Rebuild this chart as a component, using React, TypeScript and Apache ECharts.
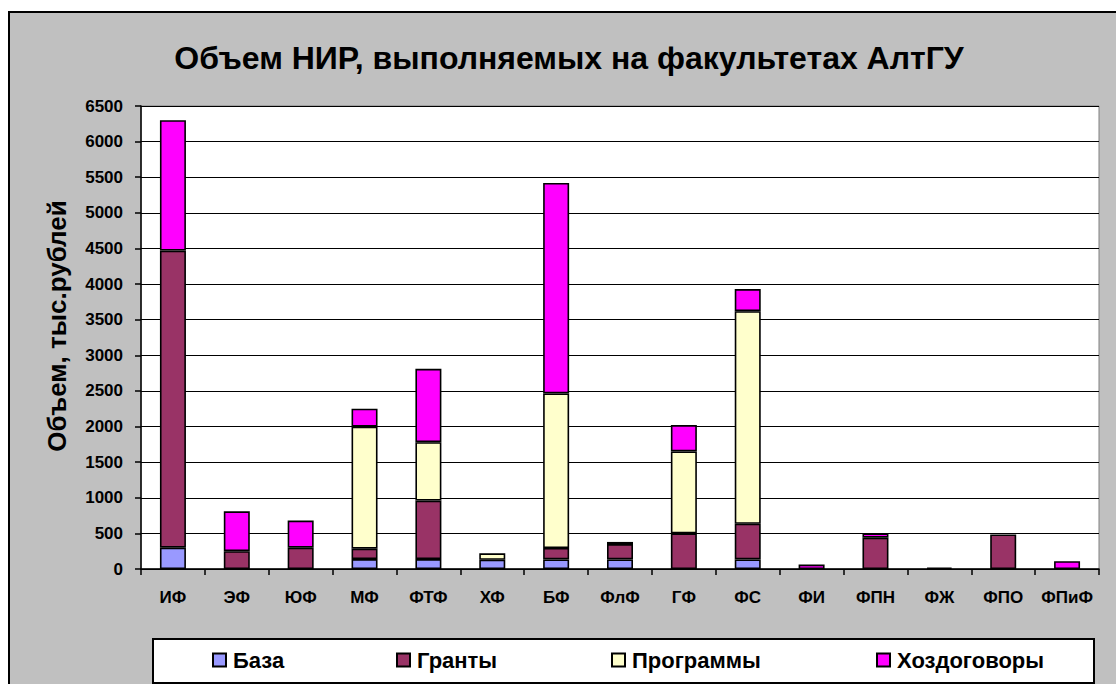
import React, { useEffect, useRef } from "react";
import * as echarts from "echarts";

const categories = ["ИФ", "ЭФ", "ЮФ", "МФ", "ФТФ", "ХФ", "БФ", "ФлФ", "ГФ", "ФС", "ФИ", "ФПН", "ФЖ", "ФПО", "ФПиФ"];
const baza = [300, 0, 0, 140, 140, 130, 135, 135, 0, 135, 0, 0, 0, 0, 0];
const granty = [4170, 250, 300, 145, 820, 0, 160, 215, 500, 500, 0, 440, 20, 485, 0];
const programmy = [0, 0, 0, 1715, 820, 90, 2170, 0, 1150, 2985, 0, 0, 0, 0, 0];
const hozdogovory = [1830, 560, 380, 250, 1030, 0, 2955, 30, 370, 310, 62, 60, 0, 0, 110];

const seriesNames = ["База", "Гранты", "Программы", "Хоздоговоры"];
const seriesValues = [baza, granty, programmy, hozdogovory];
const seriesColors = ["#9999FF", "#993366", "#FFFFCC", "#FF00FF"];
const legendLefts = [212, 396, 611, 876];

const FONT = 'Arial, "Liberation Sans", sans-serif';

export default function App() {
  const ref = useRef<HTMLDivElement>(null);
  useEffect(() => {
    if (!ref.current) return;
    const chart = echarts.init(ref.current, null, { renderer: "svg" });
    chart.setOption({
      animation: false,
      backgroundColor: "#ffffff",
      textStyle: { fontFamily: FONT },
      title: {
        text: "Объем НИР, выполняемых на факультетах АлтГУ",
        left: 564,
        top: 37,
        textAlign: "center",
        textStyle: { fontSize: 32, fontWeight: "bold", color: "#000", fontFamily: FONT },
      },
      graphic: [
        {
          type: "rect",
          z: -10,
          shape: { x: 9, y: 12, width: 1300, height: 900 },
          style: { fill: "#c0c0c0", stroke: "#000", lineWidth: 2 },
        },
        {
          type: "rect",
          z: 1,
          shape: { x: 153, y: 639, width: 941, height: 44 },
          style: { fill: "#ffffff", stroke: "#000", lineWidth: 2 },
        },
        {
          type: "text",
          z: 5,
          x: 57,
          y: 326,
          rotation: Math.PI / 2,
          style: {
            text: "Объем, тыс.рублей",
            fontSize: 26,
            fontWeight: "bold",
            fontFamily: FONT,
            fill: "#000",
            align: "center",
            verticalAlign: "middle",
          },
        },
      ],
      legend: seriesNames.map((n, i) => ({
        data: [n],
        left: legendLefts[i],
        top: 649,
        padding: 0,
        icon: "rect",
        itemWidth: 13,
        itemHeight: 13,
        z: 6,
        textStyle: { fontSize: 22, fontWeight: "bold", color: "#000", fontFamily: FONT, padding: [0, 0, 0, 2] },
      })),
      grid: {
        left: 141,
        top: 106,
        right: 17,
        bottom: 115,
        show: true,
        backgroundColor: "#ffffff",
        borderColor: "#808080",
        borderWidth: 1,
      },
      xAxis: {
        type: "category",
        data: categories,
        axisLine: { lineStyle: { color: "#000", width: 1.5 } },
        axisTick: { show: true, length: 6, lineStyle: { color: "#000", width: 1.5 } },
        axisLabel: { fontSize: 17, fontWeight: "bold", color: "#000", margin: 20, interval: 0, fontFamily: FONT },
      },
      yAxis: {
        type: "value",
        min: 0,
        max: 6500,
        interval: 500,
        axisLine: { show: true, lineStyle: { color: "#000", width: 1.5 } },
        axisTick: { show: true, length: 6, lineStyle: { color: "#000", width: 1.5 } },
        axisLabel: {
          fontSize: 17,
          fontWeight: "bold",
          color: "#000",
          margin: 18,
          fontFamily: FONT,
          formatter: (v: number) => String(v),
        },
        splitLine: { show: true, lineStyle: { color: "#000", width: 1.2 } },
      },
      series: seriesNames.map((n, i) => ({
        name: n,
        type: "bar",
        stack: "total",
        barWidth: 26,
        data: seriesValues[i].map((v) => (v === 0 ? null : v)),
        itemStyle: { color: seriesColors[i], borderColor: "#000", borderWidth: 1.6 },
      })),
    });
    return () => chart.dispose();
  }, []);
  return <div ref={ref} style={{ position: "fixed", left: 0, top: 0, width: 1116, height: 684 }} />;
}
